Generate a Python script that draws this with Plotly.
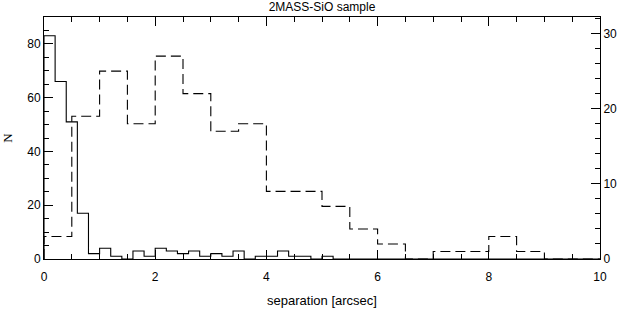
import plotly.graph_objects as go

# Solid histogram (left axis, N), bins of 0.2 arcsec starting at 0
solid_bin_width = 0.2
solid_counts = [83, 66, 51, 17, 2, 4, 1, 0, 3, 1,
                4, 3, 2, 3, 1, 2, 1, 3, 0, 1,
                1, 3, 1, 1, 0, 1, 0, 0, 0, 0,
                0, 0, 0, 0, 0, 0, 0, 0, 0, 0,
                0, 0, 0, 0, 0, 0, 0, 0, 0, 0]

# Dashed histogram (right axis), bins of 0.5 arcsec starting at 0
dashed_bin_width = 0.5
dashed_counts = [3, 19, 25, 18, 27, 22, 17, 18, 9, 9,
                 7, 4, 2, 0, 1, 1, 3, 1, 0, 0]

x_tick_vals = [0, 2, 4, 6, 8, 10]
y_left_ticks = [0, 20, 40, 60, 80]
y_right_ticks = [0, 10, 20, 30]


def step_xy(counts, width):
    xs = [0.0] + [i * width for i in range(len(counts) + 1)]
    ys = [0] + list(counts) + [counts[-1]]
    return xs, ys


sx, sy = step_xy(solid_counts, solid_bin_width)
dx, dy = step_xy(dashed_counts, dashed_bin_width)

fig = go.Figure()
fig.add_trace(go.Scatter(x=sx, y=sy, mode="lines", line=dict(shape="hv", color="black", width=1.1),
                         showlegend=False, hoverinfo="skip"))
fig.add_trace(go.Scatter(x=dx, y=dy, mode="lines", yaxis="y2",
                         line=dict(shape="hv", color="black", width=1.1, dash="10px,5px"),
                         showlegend=False, hoverinfo="skip"))

font = dict(family="Liberation Sans, Arial, sans-serif", size=12, color="black")

fig.update_layout(
    width=624, height=310,
    margin=dict(l=44, r=24, t=17, b=51),
    paper_bgcolor="white", plot_bgcolor="white",
    font=font,
    title=dict(text="2MASS-SiO sample", x=0.5, xref="paper", y=0.992, yanchor="top",
               font=dict(family="Liberation Sans, Arial, sans-serif", size=12, color="black")),
    xaxis=dict(range=[0, 10], tickvals=x_tick_vals, ticks="inside", ticklen=9, tickwidth=1,
               tickcolor="black", showline=True, linecolor="black", linewidth=1,
               mirror="ticks", showgrid=False, zeroline=False, automargin=False,
               ticklabelstandoff=7,
               minor=dict(dtick=0.5, ticks="inside", ticklen=5, tickcolor="black", showgrid=False),
               title=dict(text="separation [arcsec]", standoff=12,
                          font=dict(family="Liberation Sans, Arial, sans-serif", size=13, color="black")),
               tickfont=font),
    yaxis=dict(range=[0, 90], tickvals=y_left_ticks, ticks="inside", ticklen=9, tickwidth=1,
               tickcolor="black", showline=True, linecolor="black", linewidth=1,
               showgrid=False, zeroline=False, automargin=False,
               minor=dict(dtick=5, ticks="inside", ticklen=5, tickcolor="black", showgrid=False),
               title=dict(text="N", standoff=12,
                          font=dict(family="Liberation Serif, Times New Roman, serif", size=13, color="black")),
               tickfont=font),
    yaxis2=dict(range=[0, 32.2], tickvals=y_right_ticks, overlaying="y", side="right",
                ticks="inside", ticklen=9, tickwidth=1, tickcolor="black",
                showline=True, linecolor="black", linewidth=1,
                showgrid=False, zeroline=False, automargin=False,
                minor=dict(dtick=2, ticks="inside", ticklen=5, tickcolor="black", showgrid=False),
                tickfont=font),
)

fig.write_html("out.html", config={"displayModeBar": False},
               post_script="document.body.style.margin='0';")
